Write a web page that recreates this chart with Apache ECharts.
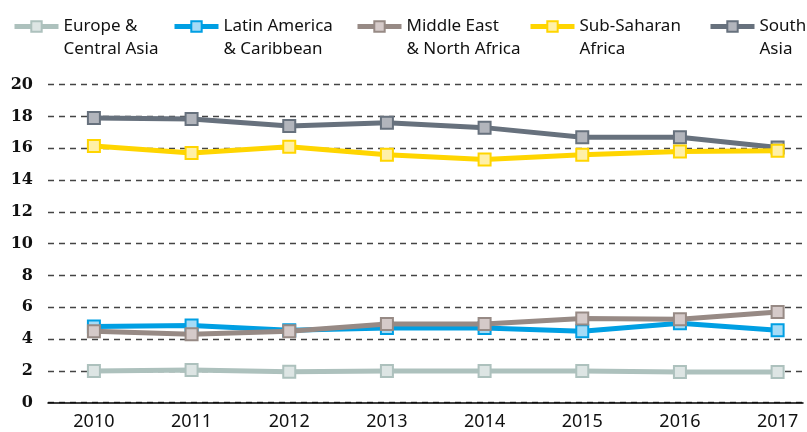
<!DOCTYPE html>
<html>
<head>
<meta charset="utf-8">
<script src="https://cdn.jsdelivr.net/npm/echarts@6/dist/echarts.min.js"></script>
<style>
  html, body { margin: 0; padding: 0; background: #fff; }
  #chart { width: 807px; height: 432px; }
</style>
</head>
<body>
<div id="chart"></div>
<script>
// 数据
let years = [2010, 2011, 2012, 2013, 2014, 2015, 2016, 2017]
let yTicks = [0, 2, 4, 6, 8, 10, 12, 14, 16, 18, 20]
let europe = [2.0, 2.05, 1.95, 2.0, 2.0, 2.0, 1.93, 1.93]
let latin = [4.8, 4.85, 4.55, 4.7, 4.7, 4.5, 5.0, 4.55]
let mena = [4.5, 4.3, 4.5, 4.95, 4.95, 5.3, 5.25, 5.7]
let ssa = [16.15, 15.7, 16.1, 15.6, 15.3, 15.6, 15.8, 15.85]
let southAsia = [17.9, 17.85, 17.4, 17.6, 17.3, 16.7, 16.7, 16.05]

let names = ['Europe &\nCentral Asia', 'Latin America\n& Caribbean', 'Middle East\n& North Africa', 'Sub-Saharan\nAfrica', 'South\nAsia']

;(function () {
  let mychart = echarts.init(document.querySelector('#chart'))

  function pairs(arr) {
    return years.map(function (y, i) { return [y, arr[i]] })
  }

  function line(name, arr, lineColor, fill, z) {
    return {
      name: name,
      type: 'line',
      data: pairs(arr),
      z: z,
      symbol: 'rect',
      symbolSize: 12,
      showSymbol: true,
      lineStyle: { color: lineColor, width: 5 },
      itemStyle: { color: fill, borderColor: lineColor, borderWidth: 2 },
      emphasis: { disabled: true }
    }
  }

  // 空的第一行让图标和第一行文字对齐
  function legend(name, left) {
    return {
      data: [name],
      left: left,
      top: -8,
      padding: 0,
      itemWidth: 44,
      itemHeight: 13,
      itemGap: 0,
      lineStyle: { width: 5 },
      formatter: function (n) { return '\n' + n },
      textStyle: {
        fontFamily: 'Noto Sans',
        fontSize: 17,
        color: '#111',
        lineHeight: 23
      }
    }
  }

  let option = {
    animation: false,
    legend: [
      legend(names[0], 12),
      legend(names[1], 172),
      legend(names[2], 355),
      legend(names[3], 528),
      legend(names[4], 708)
    ],
    grid: { left: 48, right: 4, top: 84.7, bottom: 29.3 },
    xAxis: {
      type: 'value',
      min: 2009.53,
      max: 2017.26,
      axisLine: { show: true, lineStyle: { color: '#000', width: 1.5 } },
      axisTick: { show: false },
      splitLine: { show: false },
      axisLabel: {
        customValues: years,
        margin: 10,
        fontFamily: 'Noto Sans',
        fontSize: 18,
        color: '#111',
        formatter: function (v) { return String(v) }
      }
    },
    yAxis: {
      type: 'value',
      min: 0,
      max: 20,
      interval: 2,
      axisLine: { show: false },
      axisTick: { show: false },
      axisLabel: {
        margin: 15,
        fontFamily: 'DejaVu Serif',
        fontWeight: 'bold',
        fontSize: 16,
        color: '#111',
        customValues: yTicks
      },
      splitLine: { lineStyle: { color: '#444', width: 1.4, type: [6, 5] } }
    },
    series: [
      line(names[0], europe, '#adc1bd', '#dde5e4', 2),
      line(names[1], latin, '#009fe3', '#a5dbf6', 3),
      line(names[2], mena, '#978a85', '#d5cac9', 4),
      line(names[4], southAsia, '#67717d', '#b2b5bc', 5),
      line(names[3], ssa, '#ffd500', '#fff0a8', 6)
    ]
  }
  mychart.setOption(option)
})();
</script>
</body>
</html>
